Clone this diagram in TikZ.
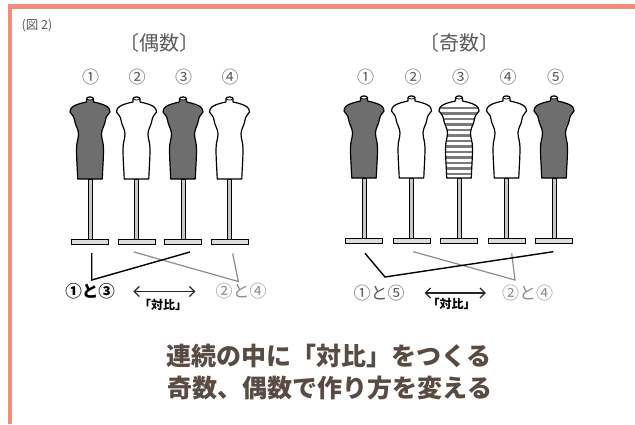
\documentclass[tikz,border=0pt]{standalone}
\usepackage{fontspec}
\setmainfont{Noto Sans CJK JP}
\usetikzlibrary{arrows.meta}

\definecolor{framecol}{HTML}{F38B7B}
\definecolor{darkfill}{HTML}{6E6E6E}
\definecolor{titlecol}{HTML}{5A5A5A}
\definecolor{headcol}{HTML}{594A42}
\definecolor{polecol}{HTML}{C8C8C8}
\definecolor{basecol}{HTML}{DCDCDC}
\definecolor{stripecol}{HTML}{7A7A7A}
\definecolor{pairgray}{HTML}{8C8C8C}

\tikzset{
  % outline of the dress form, neck top at (0,0), y grows downward
  form outline/.style={insert path={
    (-3.5,5) -- (-3.5,2) .. controls (-3.5,-0.8) and (3.5,-0.8) .. (3.5,2) -- (3.5,5)
    .. controls (8,6) and (13,7) .. (17,9.5)
    .. controls (19,11) and (20,12.5) .. (20,15)
    .. controls (18.5,17.5) and (16,19) .. (15.5,23)
    .. controls (15,28) and (11.5,32) .. (11.5,37)
    .. controls (11.5,42) and (13.5,45) .. (13.5,52)
    .. controls (13.5,62) and (12.5,74) .. (12.3,82)
    -- (-12.3,82)
    .. controls (-12.5,74) and (-13.5,62) .. (-13.5,52)
    .. controls (-13.5,45) and (-11.5,42) .. (-11.5,37)
    .. controls (-11.5,32) and (-15,28) .. (-15.5,23)
    .. controls (-16,19) and (-18.5,17.5) .. (-20,15)
    .. controls (-20,12.5) and (-19,11) .. (-17,9.5)
    .. controls (-13,7) and (-8,6) .. (-3.5,5) -- cycle}},
  outline/.style={draw=black, line width=1.2pt, line join=round},
  stand/.pic={
    \draw[fill=polecol, line width=0.6pt] (-2,82) rectangle (2,142);
    \draw[fill=basecol, line width=0.8pt] (-18.5,142) rectangle (18.5,147);
  },
  neckcap/.pic={
    \draw[fill=white, line width=0.8pt] (0,1.6) ellipse [x radius=3.3, y radius=1.4];
  },
  form/.pic={
    \pic {stand};
    \path[outline, fill=#1, form outline];
    \pic {neckcap};
  },
  striped form/.pic={
    \pic {stand};
    \path[fill=white, form outline];
    \begin{scope}
      \clip[form outline];
      \foreach \yy in {12,17.5,...,79}
        \draw[stripecol, line width=2.2pt] (-22,\yy) -- (22,\yy);
    \end{scope}
    \path[outline, form outline];
    \pic {neckcap};
  },
  numlabel/.style={text=titlecol, font=\fontsize{17pt}{19pt}\selectfont, inner sep=0},
  grouptitle/.style={text=titlecol, font=\fontsize{20pt}{23pt}\selectfont, inner sep=0},
  pairlabel/.style={font=\fontsize{17pt}{19pt}\selectfont, inner sep=0},
  contrast/.style={text=black, font=\bfseries\fontsize{12pt}{14pt}\selectfont, inner sep=0},
  pairarrow/.style={draw=black!85, line width=1.2pt,
    {Straight Barb[length=5pt, width=10pt]}-{Straight Barb[length=5pt, width=10pt]}},
  blackpair/.style={draw=black, line width=1.4pt, line join=miter},
  graypair/.style={draw=pairgray, line width=1.2pt, line join=miter},
  heading/.style={text=headcol, font=\bfseries\fontsize{25pt}{28pt}\selectfont, inner sep=0},
}

\begin{document}
\begin{tikzpicture}[x=1pt, y=-1pt]
  \useasboundingbox (0,0) rectangle (635,424);

  % salmon frame (top and left edges)
  \fill[framecol] (8,4) rectangle (635,9);
  \fill[framecol] (8,4) rectangle (12,424);

  \node[text=titlecol, font=\fontsize{12.5pt}{14pt}\selectfont, inner sep=0] (fig) at (37,26) {(図 2)};

  % ---------------- even group ----------------
  \node[grouptitle] (evtitle) at (159.5,43) {〔偶数〕};
  \foreach \i/\x in {1/90,2/136.5,3/183,4/229.5}
    \node[numlabel] (en\i) at (\x+0.5,77) {\ifcase\i\or ①\or ②\or ③\or ④\fi};

  \pic (ev1) at (90,97)    {form=darkfill};
  \pic (ev2) at (136.5,97) {form=white};
  \pic (ev3) at (183,97)   {form=darkfill};
  \pic (ev4) at (229.5,97) {form=white};

  \coordinate (ea1) at (91.7,253);
  \coordinate (ea3) at (190,252);
  \coordinate (eav) at (91.7,280);
  \coordinate (eb2) at (134,252);
  \coordinate (eb4) at (232.7,253.5);
  \coordinate (ebv) at (238.3,281.5);

  \draw[graypair] (eb2) -- (ebv) -- (eb4);
  \draw[blackpair] (ea1) -- (eav) -- (ea3);

  \node[pairlabel, text=black, font=\bfseries\fontsize{16.5pt}{19pt}\selectfont] (ep13) at (90,291.5) {①と③};
  \node[pairlabel, text=pairgray] (ep24) at (241,291.5) {②と④};
  \draw[pairarrow, shorten <=18.5pt, shorten >=20pt] (ep13.east) -- (ep24.west);
  \node[contrast] (ect) at (163,305) {「対比」};

  % ---------------- odd group ----------------
  \node[grouptitle] (odtitle) at (459,43) {〔奇数〕};
  \foreach \i/\x in {1/364,2/411.5,3/459,4/506.5,5/554}
    \node[numlabel] (on\i) at (\x+1.5,77) {\ifcase\i\or ①\or ②\or ③\or ④\or ⑤\fi};

  \pic (od1) at (364,96)   {form=darkfill};
  \pic (od2) at (411.5,96) {form=white};
  \pic (od3) at (459,96)   {striped form};
  \pic (od4) at (506.5,96) {form=white};
  \pic (od5) at (554,96)   {form=darkfill};

  \coordinate (oa1) at (365,253.3);
  \coordinate (oa5) at (553.3,251.7);
  \coordinate (oav) at (385,277);
  \coordinate (ob2) at (413.3,251.7);
  \coordinate (ob4) at (511.7,253.3);
  \coordinate (obv) at (515,280);

  \draw[graypair] (ob2) -- (obv) -- (ob4);
  \draw[blackpair] (oa1) -- (oav) -- (oa5);

  \node[pairlabel, text=black!65] (op15) at (379,293) {①と⑤};
  \node[pairlabel, text=pairgray] (op24) at (527.5,293) {②と④};
  \draw[pairarrow, shorten <=20pt, shorten >=16pt] (op15.east) -- (op24.west);
  \node[contrast] (oct) at (451.7,304) {「対比」};

  % ---------------- heading ----------------
  \node[heading] (h1) at (329,356) {連続の中に「対比」をつくる};
  \node[heading] (h2) at (330,388) {奇数、偶数で作り方を変える};
\end{tikzpicture}
\end{document}
